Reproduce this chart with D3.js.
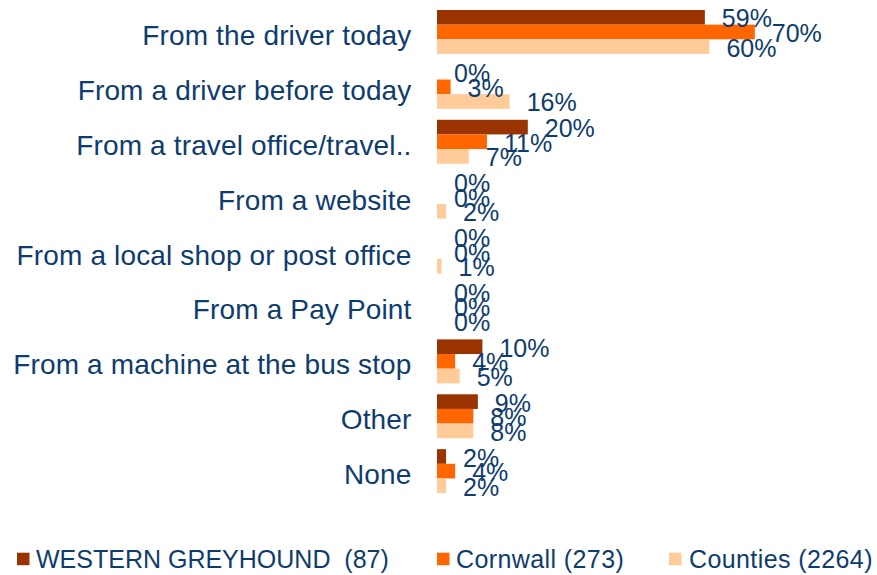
<!DOCTYPE html>
<html>
<head>
<meta charset="utf-8">
<script src="https://cdn.jsdelivr.net/npm/d3@7"></script>
<style>
  html, body { margin: 0; padding: 0; background: #fff; }
  svg { display: block; }
  text { font-family: Arial, "Liberation Sans", sans-serif; fill: #0e3c6e; }
</style>
</head>
<body>
<svg id="chart" width="877" height="575"></svg>
<script>
const categories = [
  "From the driver today",
  "From a driver before today",
  "From a travel office/travel..",
  "From a website",
  "From a local shop or post office",
  "From a Pay Point",
  "From a machine at the bus stop",
  "Other",
  "None"
];
const seriesNames = ["WESTERN GREYHOUND  (87)", "Cornwall (273)", "Counties (2264)"];
const westernGreyhound = [59, 0, 20, 0, 0, 0, 10, 9, 2];
const cornwall = [70, 3, 11, 0, 0, 0, 4, 8, 4];
const counties = [60, 16, 7, 2, 1, 0, 5, 8, 2];
const seriesColors = ["#993300", "#FF6600", "#FFCC99"];

const seriesValues = [westernGreyhound, cornwall, counties];

const svg = d3.select("#chart");

const x = d3.scaleLinear().domain([0, 100]).range([437, 891]);
const y = d3.scaleBand().domain(categories).range([4.5, 498.6])
  .paddingInner(0.2).paddingOuter(0.1);
const ySub = d3.scaleBand().domain(d3.range(seriesNames.length)).range([0, y.bandwidth()]);

const groups = svg.append("g").selectAll("g")
  .data(categories)
  .join("g")
  .attr("transform", d => `translate(0,${y(d)})`);

// bars
groups.each(function(cat, ci) {
  const g = d3.select(this);
  seriesValues.forEach((vals, si) => {
    const v = vals[ci];
    if (v > 0) {
      g.append("rect")
        .attr("x", x(0))
        .attr("y", ySub(si))
        .attr("width", x(v) - x(0))
        .attr("height", ySub.bandwidth())
        .attr("fill", seriesColors[si]);
    }
  });
});

// data labels
groups.each(function(cat, ci) {
  const g = d3.select(this);
  seriesValues.forEach((vals, si) => {
    const v = vals[ci];
    g.append("text")
      .attr("x", x(v) + 17)
      .attr("y", ySub(si) + ySub.bandwidth() / 2 + 10)
      .attr("font-size", 25)
      .text(v + "%");
  });
});

// category labels
groups.append("text")
  .attr("x", 411.5)
  .attr("y", y.bandwidth() / 2 + 13)
  .attr("text-anchor", "end")
  .attr("font-size", 28)
  .attr("letter-spacing", 0.15)
  .text(d => d);

// legend
const legendX = [17, 437, 669];
const legend = svg.append("g").selectAll("g")
  .data(seriesNames)
  .join("g")
  .attr("transform", (d, i) => `translate(${legendX[i]},0)`);
legend.append("rect")
  .attr("x", 0).attr("y", 552.7)
  .attr("width", 12.5).attr("height", 12.5)
  .attr("fill", (d, i) => seriesColors[i]);
legend.append("text")
  .attr("x", (d, i) => i === 2 ? 20 : 19)
  .attr("y", 568)
  .attr("font-size", 25)
  .attr("letter-spacing", (d, i) => i === 0 ? 0 : 0.4)
  .style("white-space", "pre")
  .text(d => d);
</script>
</body>
</html>
